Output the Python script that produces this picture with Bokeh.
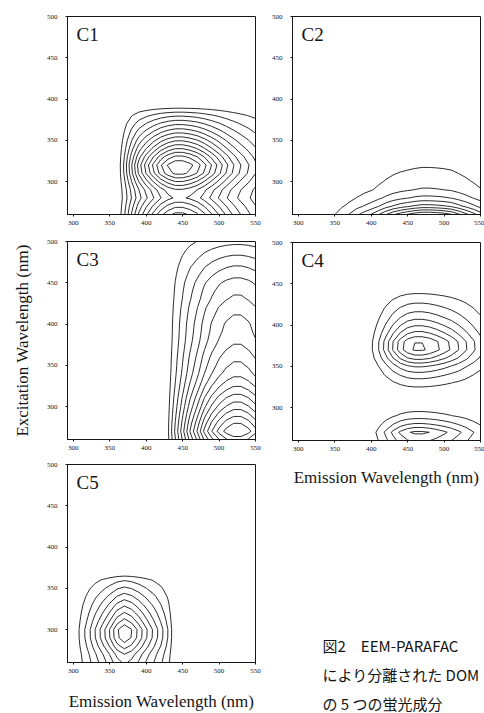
import numpy as np
from bokeh.plotting import figure
from bokeh.layouts import column, row
from bokeh.models import Range1d, FixedTicker, Label
from bokeh.embed import file_html
from bokeh.resources import INLINE

# ---- grids (nm) ----
EM = [300, 310, 320, 330, 340, 350, 360, 370, 380, 390, 400, 410, 420,
      430, 440, 450, 460, 470, 480, 490, 500, 510, 520, 530, 540, 550]
EX = [260, 270, 280, 290, 300, 310, 320, 330, 340, 350, 360, 370, 380,
      390, 400, 410, 420, 430, 440, 450, 460, 470, 480, 490, 500]

# ---- PARAFAC loadings (emission / excitation) ----
c1_em = [0, 0, 0, 0, 0, 0, 0, 0.15, 0.33, 0.50, 0.63, 0.75, 0.86,
         0.94, 0.99, 0.99, 0.955, 0.90, 0.82, 0.73, 0.64, 0.55, 0.47, 0.40, 0.34, 0.28]
c1_ex = [0.82, 0.72, 0.61, 0.66, 0.80, 0.95, 0.99, 0.88, 0.73, 0.59, 0.45, 0.32, 0.19,
         0.05, 0, 0, 0, 0, 0, 0, 0, 0, 0, 0, 0]

c2_em = [0, 0, 0, 0, 0.04, 0.11, 0.17, 0.23, 0.31, 0.38, 0.45, 0.55, 0.66,
         0.76, 0.84, 0.90, 0.96, 1.00, 1.00, 0.98, 0.95, 0.90, 0.80, 0.70, 0.60, 0.50]
c2_ex = [0.45, 0.27, 0.165, 0.105, 0.08, 0.062, 0.045, 0.03, 0.018, 0.008, 0, 0, 0,
         0, 0, 0, 0, 0, 0, 0, 0, 0, 0, 0, 0]

c3_em = [0, 0, 0, 0, 0, 0, 0, 0, 0, 0, 0, 0, 0,
         0.05, 0.19, 0.33, 0.47, 0.59, 0.72, 0.82, 0.90, 0.96, 0.995, 0.995, 0.96, 0.90]
c3_ex = [0.90, 0.99, 0.93, 0.86, 0.79, 0.73, 0.665, 0.61, 0.565, 0.535, 0.51, 0.48, 0.455,
         0.44, 0.43, 0.41, 0.39, 0.36, 0.34, 0.315, 0.275, 0.235, 0.19, 0.145, 0.10]

c4_em = [0, 0, 0, 0, 0, 0, 0, 0, 0, 0, 0.10, 0.24, 0.42,
         0.62, 0.80, 0.93, 0.99, 0.99, 0.95, 0.88, 0.80, 0.71, 0.61, 0.50, 0.39, 0.29]
c4_ex = [0.50, 0.62, 0.37, 0.17, 0.07, 0.04, 0.07, 0.17, 0.31, 0.49, 0.76, 0.97, 0.95,
         0.75, 0.58, 0.43, 0.31, 0.20, 0.10, 0.03, 0, 0, 0, 0, 0]

c5_em = [0, 0.13, 0.26, 0.41, 0.56, 0.72, 0.90, 1.00, 0.92, 0.78, 0.63, 0.49, 0.35,
         0.20, 0, 0, 0, 0, 0, 0, 0, 0, 0, 0, 0, 0]
c5_ex = [0.62, 0.70, 0.85, 0.97, 0.98, 0.84, 0.71, 0.58, 0.45, 0.32, 0.19, 0, 0,
         0, 0, 0, 0, 0, 0, 0, 0, 0, 0, 0, 0]

# contour levels of each component
c1_levels = [0.066 * k for k in range(1, 15)]
c2_levels = [0.05 * k for k in range(1, 9)]
c3_levels = [0.058 * k for k in range(1, 17)]
c4_levels = [0.118 * k for k in range(1, 9)]
c5_levels = [0.1 * k for k in range(1, 10)]

x_ticks = [300, 350, 400, 450, 500, 550]
y_ticks = [300, 350, 400, 450, 500]
x_label = "Emission Wavelength (nm)"
y_label = "Excitation Wavelength (nm)"
caption = ["図2　EEM-PARAFAC", "により分離された DOM", "の 5 つの蛍光成分"]

SERIF = "Liberation Serif"
INK = "#151515"
FW, FH = 188, 198


def panel(name, ex_load, em_load, levels, left, right, top, bottom,
          xlab=None, xlab_standoff=15, ylab=None):
    p = figure(width=left + FW + right, height=top + FH + bottom,
               x_range=Range1d(292, 550), y_range=Range1d(260, 500),
               output_backend="svg", toolbar_location=None,
               min_border_left=left, min_border_right=right,
               min_border_top=top, min_border_bottom=bottom)
    z = np.outer(np.array(ex_load, dtype=float), np.array(em_load, dtype=float))
    p.contour(EM, EX, z, levels, line_color=INK, line_width=0.9)
    p.grid.visible = False
    p.outline_line_color = INK
    p.outline_line_width = 1
    p.outline_line_alpha = 1
    p.background_fill_color = "white"
    p.border_fill_color = "white"
    p.xaxis.ticker = FixedTicker(ticks=x_ticks)
    p.yaxis.ticker = FixedTicker(ticks=y_ticks)
    for ax in (p.xaxis[0], p.yaxis[0]):
        ax.axis_line_color = INK
        ax.major_tick_out = 2
        ax.major_tick_in = 0
        ax.minor_tick_out = 0
        ax.minor_tick_in = 0
        ax.major_tick_line_color = INK
        ax.major_label_text_font = SERIF
        ax.major_label_text_font_size = "7px"
        ax.major_label_text_color = INK
    p.xaxis.major_label_standoff = 4
    p.yaxis.major_label_standoff = 8
    if xlab:
        p.xaxis.axis_label = xlab
        p.xaxis.axis_label_text_font = SERIF
        p.xaxis.axis_label_text_font_size = "17px"
        p.xaxis.axis_label_text_font_style = "normal"
        p.xaxis.axis_label_text_color = INK
        p.xaxis.axis_label_standoff = xlab_standoff
    if ylab:
        p.yaxis.axis_label = ylab
        p.yaxis.axis_label_text_font = SERIF
        p.yaxis.axis_label_text_font_size = "17px"
        p.yaxis.axis_label_text_font_style = "normal"
        p.yaxis.axis_label_text_color = INK
        p.yaxis.axis_label_standoff = 12
    p.add_layout(Label(x=9, y=FH - 7, x_units="screen", y_units="screen",
                       text=name, text_font=SERIF, text_font_size="19px",
                       text_color=INK, text_baseline="top", text_align="left"))
    return p


p1 = panel("C1", c1_ex, c1_em, c1_levels, 67, 6, 16, 15)
p3 = panel("C3", c3_ex, c3_em, c3_levels, 67, 6, 12, 15, ylab=y_label)
p5 = panel("C5", c5_ex, c5_em, c5_levels, 67, 6, 10, 51, xlab=x_label, xlab_standoff=16)

p2 = panel("C2", c2_ex, c2_em, c2_levels, 31, 4, 16, 15)
p4 = panel("C4", c4_ex, c4_em, c4_levels, 31, 4, 13, 52, xlab=x_label, xlab_standoff=14)

cap = figure(width=223, height=221, x_range=Range1d(0, 1), y_range=Range1d(0, 1),
             output_backend="svg", toolbar_location=None,
             min_border=0, x_axis_type=None, y_axis_type=None)
cap.grid.visible = False
cap.outline_line_color = None
for i, line in enumerate(caption):
    cap.add_layout(Label(x=30, y=68 - 29 * i, x_units="screen", y_units="screen",
                         text=line, text_font="Noto Sans CJK JP",
                         text_font_size="15px", text_color=INK,
                         text_baseline="middle", text_align="left"))

layout = row(column(p1, p3, p5), column(p2, p4, cap))
open("out.html", "w").write(file_html(layout, INLINE))
